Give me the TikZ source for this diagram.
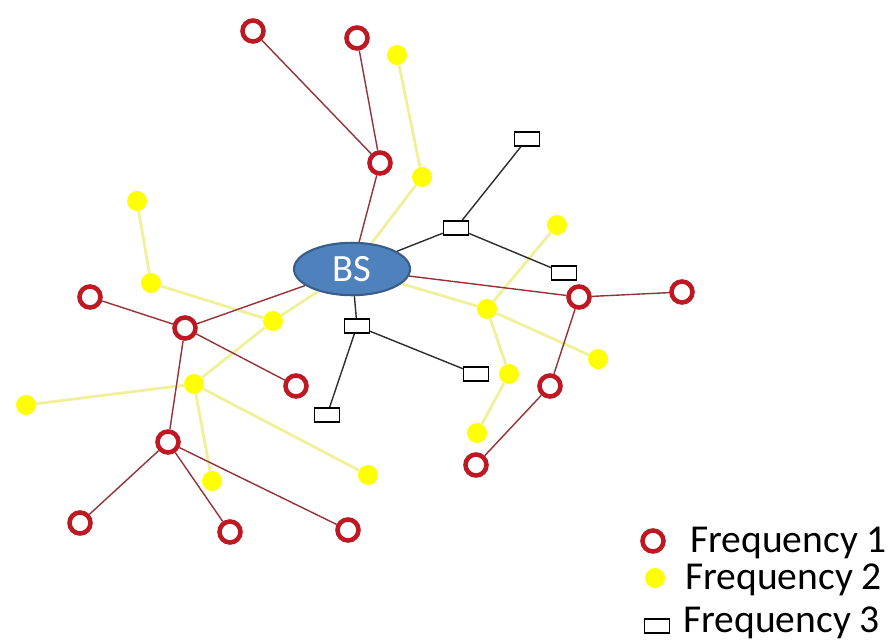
\documentclass[tikz,border=0pt]{standalone}
\usepackage{fontspec}
\setmainfont{Carlito}
\usetikzlibrary{backgrounds,shapes.geometric}
\definecolor{bsblue}{RGB}{79,129,189}
\definecolor{bsborder}{RGB}{56,93,138}
\definecolor{freqred}{RGB}{190,25,35}
\definecolor{linkred}{RGB}{150,50,55}
\definecolor{freqyellow}{RGB}{255,255,0}
\definecolor{linkyellow}{RGB}{240,240,155}
\definecolor{linkgray}{RGB}{45,45,45}
\tikzset{
  fone/.style={circle,draw=freqred,line width=2.6pt,fill=white,minimum size=0.42cm,inner sep=0pt},
  ftwo/.style={circle,fill=freqyellow,minimum size=0.4cm,inner sep=0pt},
  fthree/.style={rectangle,draw=black,line width=0.8pt,fill=white,minimum width=0.5cm,minimum height=0.28cm,inner sep=0pt},
  lone/.style={linkred,line width=0.8pt},
  ltwo/.style={linkyellow,line width=1.6pt},
  lthree/.style={linkgray,line width=0.8pt},
  legend/.style={anchor=west,inner sep=0pt,font=\fontsize{22.5}{22.5}\selectfont}
}

\begin{document}
\begin{tikzpicture}[x=0.02cm,y=-0.02cm]
  \useasboundingbox (0,0) rectangle (891,639);
  % base station
  \node[ellipse,fill=bsblue,draw=bsborder,line width=1.2pt,minimum width=2.32cm,minimum height=0.96cm,
        text=white,font=\fontsize{22}{22}\selectfont] (bs) at (352,269) {BS};
  % frequency 1 nodes
  \node[fone] (r1) at (253,31) {};
  \node[fone] (r2) at (357,38) {};
  \node[fone] (r3) at (380,163) {};
  \node[fone] (r4) at (90,297) {};
  \node[fone] (r5) at (185,328) {};
  \node[fone] (r6) at (296,386) {};
  \node[fone] (r7) at (168,442) {};
  \node[fone] (r8) at (80,523) {};
  \node[fone] (r9) at (230,532) {};
  \node[fone] (r10) at (348,530) {};
  \node[fone] (r11) at (579,297) {};
  \node[fone] (r12) at (682,292) {};
  \node[fone] (r13) at (550,386) {};
  \node[fone] (r14) at (476,465) {};
  % frequency 2 nodes
  \node[ftwo] (y1) at (397,55) {};
  \node[ftwo] (y2) at (422,177) {};
  \node[ftwo] (y3) at (137,201) {};
  \node[ftwo] (y4) at (151,283) {};
  \node[ftwo] (y5) at (273,321) {};
  \node[ftwo] (y6) at (194,384) {};
  \node[ftwo] (y7) at (26,405) {};
  \node[ftwo] (y8) at (212,481) {};
  \node[ftwo] (y9) at (368,475) {};
  \node[ftwo] (y10) at (557,225) {};
  \node[ftwo] (y11) at (487,309) {};
  \node[ftwo] (y12) at (598,359) {};
  \node[ftwo] (y13) at (509,374) {};
  \node[ftwo] (y14) at (477,433) {};
  % frequency 3 nodes
  \node[fthree] (b1) at (527,139) {};
  \node[fthree] (b2) at (456,228) {};
  \node[fthree] (b3) at (564,273) {};
  \node[fthree] (b4) at (476,374) {};
  \node[fthree] (b5) at (357,326) {};
  \node[fthree] (b6) at (327,415) {};
  % links
  \begin{pgfonlayer}{background}
    \draw[ltwo] (bs) -- (y2) -- (y1);
    \draw[ltwo] (bs) -- (y5) -- (y4) -- (y3);
    \draw[ltwo] (y5) -- (y6) -- (y7);
    \draw[ltwo] (y6) -- (y8);
    \draw[ltwo] (y6) -- (y9);
    \draw[ltwo] (bs) -- (y11) -- (y10);
    \draw[ltwo] (y11) -- (y12);
    \draw[ltwo] (y11) -- (y13) -- (y14);
    \draw[lthree] (bs) -- (b2) -- (b1);
    \draw[lthree] (b2) -- (b3);
    \draw[lthree] (bs) -- (b5) -- (b4);
    \draw[lthree] (b5) -- (b6);
    \draw[lone] (bs) -- (r3) -- (r1);
    \draw[lone] (r3) -- (r2);
    \draw[lone] (bs) -- (r5) -- (r4);
    \draw[lone] (r5) -- (r6);
    \draw[lone] (r5) -- (r7) -- (r8);
    \draw[lone] (r7) -- (r9);
    \draw[lone] (r7) -- (r10);
    \draw[lone] (bs) -- (r11) -- (r12);
    \draw[lone] (r11) -- (r13) -- (r14);
  \end{pgfonlayer}
  % legend
  \node[fone] (k1) at (653,541) {};
  \node[ftwo] (k2) at (655,578) {};
  \node[fthree] (k3) at (657,626) {};
  \node[legend] (t1) at (690,543) {Frequency 1};
  \node[legend] (t2) at (685,580) {Frequency 2};
  \node[legend] (t3) at (683,623) {Frequency 3};
\end{tikzpicture}
\end{document}
